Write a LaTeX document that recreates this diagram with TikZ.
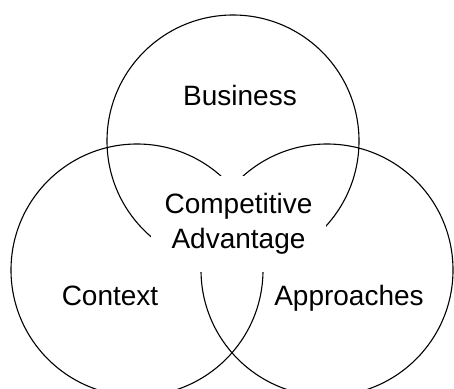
\documentclass[tikz,border=0pt]{standalone}
\usepackage{fontspec}
\setmainfont{Liberation Sans}

\begin{document}
\begin{tikzpicture}[x=1pt,y=-1pt,
    ring/.style={draw,circle,line width=1.1pt,minimum size=252pt,inner sep=0pt},
    word/.style={font=\fontsize{28}{35}\selectfont,inner sep=0pt}]
  \useasboundingbox (0,0) rectangle (454,388);
  \clip (0,0) rectangle (454,388);
  % the three overlapping circles
  \draw node (business) [ring] at (233,141) {}
        node (context) [ring] at (137,270) {}
        node (approaches) [ring] at (327,270) {};
  % white box in the middle breaks the circles around the text
  \node (advantage) [word,fill=white,inner sep=0pt,minimum width=175pt,
        minimum height=96pt,align=center] at (238.5,224) {Competitive\\Advantage};
  \node (businesstext) [word,anchor=base] at (240,105) {Business};
  \node (contexttext) [word,anchor=base] at (110,305) {Context};
  \node (approachestext) [word,anchor=base] at (349,305) {Approaches};
\end{tikzpicture}
\end{document}
